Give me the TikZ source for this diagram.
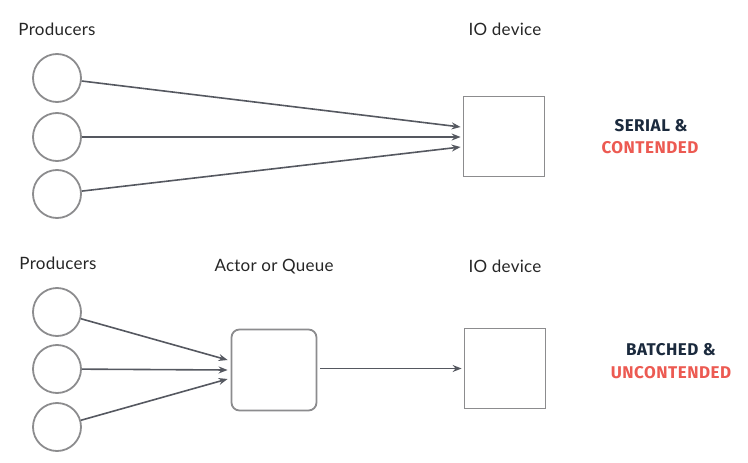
\documentclass[tikz,border=0pt]{standalone}
\usepackage{fontspec}
\setmainfont{Lato}[LetterSpace=1.5]
\newfontfamily\labfont{Fira Sans}[LetterSpace=3]
\usetikzlibrary{arrows.meta}
\definecolor{navy}{HTML}{1B2A3D}
\definecolor{redl}{HTML}{EC5A52}
\definecolor{stroke}{HTML}{8C8C8E}
\definecolor{arr}{HTML}{555860}
\begin{document}
\begin{tikzpicture}[x=1pt,y=-1pt,
  prod/.style={circle,draw=stroke,line width=1.8pt,minimum size=48pt,inner sep=0pt},
  devbox/.style={rectangle,draw=stroke,line width=1.8pt,minimum width=81pt,minimum height=80pt,inner sep=0pt},
  actbox/.style={rectangle,rounded corners=8pt,draw=stroke,line width=1.8pt,minimum width=85pt,minimum height=81pt,inner sep=0pt},
  lbl/.style={font=\fontsize{17}{19}\selectfont,text=black!85,inner sep=0pt},
  tag/.style={font=\labfont\bfseries\fontsize{17}{19}\selectfont,inner sep=0pt},
  conn/.style={draw=arr,line width=1.6pt,-{Stealth[length=9pt,width=7pt,inset=3pt]}}]
\useasboundingbox (0,0) rectangle (748,463);
% top
\node[lbl] (p1lab) at (57,29) {Producers};
\node[lbl] (io1lab) at (505,29) {IO device};
\node[prod] (a1) at (57,78) {};
\node[prod] (a2) at (57,137) {};
\node[prod] (a3) at (57,194) {};
\node[devbox] (io1) at (504,136.5) {};
\node[tag,text=navy] (s1) at (651,126) {SERIAL \&};
\node[tag,text=redl] (s2) at (650,148) {CONTENDED};
\draw[conn] (a1) -- ([xshift=-2pt,yshift=9.5pt]io1.west);
\draw[conn] (a2) -- ([xshift=-2pt,yshift=-0.5pt]io1.west);
\draw[conn] (a3) -- ([xshift=-2pt,yshift=-10.5pt]io1.west);
% bottom
\node[lbl] (p2lab) at (58,263) {Producers};
\node[lbl] (actlab) at (274,267) {Actor or Queue};
\node[lbl] (io2lab) at (505,266) {IO device};
\node[prod] (b1) at (57,312) {};
\node[prod] (b2) at (57,369) {};
\node[prod] (b3) at (57,427) {};
\node[actbox] (act) at (274,370) {};
\node[devbox] (io2) at (505,368.5) {};
\node[tag,text=navy] (t1) at (671,350) {BATCHED \&};
\node[tag,text=redl] (t2) at (671,373) {UNCONTENDED};
\draw[conn] (b1) -- ([xshift=-3pt,yshift=10pt]act.west);
\draw[conn] (b2) -- ([xshift=-3pt,yshift=0pt]act.west);
\draw[conn] (b3) -- ([xshift=-3pt,yshift=-9pt]act.west);
\draw[conn] ([xshift=3pt]act.east |- io2.west) -- ([xshift=-2pt]io2.west);
\end{tikzpicture}
\end{document}
